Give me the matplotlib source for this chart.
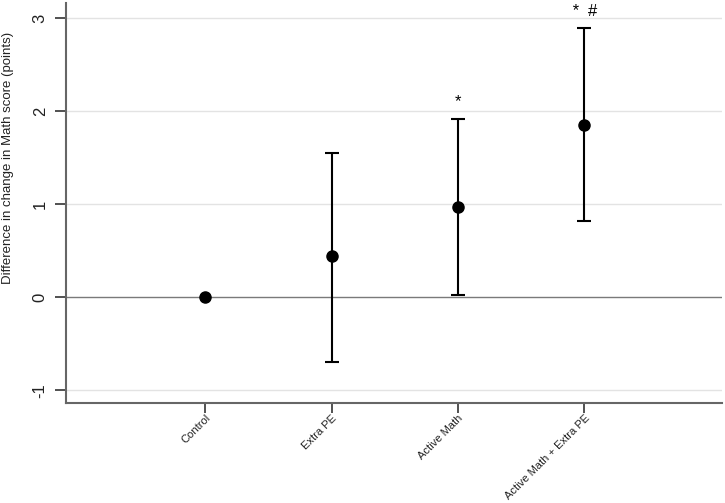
import matplotlib
matplotlib.use("Agg")
import matplotlib.pyplot as plt

categories = ["Control", "Extra PE", "Active Math", "Active Math + Extra PE"]
estimates = [0.0, 0.44, 0.975, 1.855]
ci_low = [0.0, -0.69, 0.02, 0.82]
ci_high = [0.0, 1.555, 1.92, 2.89]
annotations = ["", "", "*", "*  #"]
yticks = [-1, 0, 1, 2, 3]

plt.rcParams['font.family'] = ['Liberation Sans', 'DejaVu Sans']

fig = plt.figure(figsize=(7.25, 5.03), dpi=100)
ax = fig.add_axes([0.0906, 0.1994, 0.9054, 0.7946])

xs = list(range(1, len(categories) + 1))
ax.set_xlim(-0.103, 5.09)
ax.set_ylim(-1.131, 3.16)

for y in yticks:
    if y == 0:
        ax.axhline(y, color='#7a7a7a', lw=1.0, zorder=1)
    else:
        ax.axhline(y, color='#e3e3e3', lw=1.0, zorder=0)

for x, est, lo, hi in zip(xs, estimates, ci_low, ci_high):
    if hi != lo:
        ax.errorbar([x], [est], yerr=[[est - lo], [hi - est]], fmt='none',
                    ecolor='black', elinewidth=1.5, capsize=5, capthick=1.5, zorder=3)
ax.plot(xs, estimates, 'o', color='black', markersize=8, zorder=4, linestyle='none')

for x, hi, txt in zip(xs, ci_high, annotations):
    if txt:
        ax.text(x, hi + 0.13, txt, ha='center', va='baseline', fontsize=12,
                fontstyle='italic' if '#' in txt else 'normal')

ax.set_xticks(xs)
ax.set_xticklabels(categories, rotation=45, ha='right', rotation_mode='anchor',
                   fontsize=8, color='#222222')
ax.set_yticks(yticks)
ax.set_yticklabels([str(v) for v in yticks], rotation=90, va='center',
                   fontsize=12, color='#222222')
ax.tick_params(axis='y', length=8, width=1.2, pad=5, color='#333333')
ax.tick_params(axis='x', length=7, width=1.2, pad=0.5, color='#333333')
ax.set_ylabel("Difference in change in Math score (points)", fontsize=9.5,
              color='#222222', va='center')
ax.yaxis.set_label_coords(-0.088, 0.612)

for s in ['top', 'right']:
    ax.spines[s].set_visible(False)
for s in ['left', 'bottom']:
    ax.spines[s].set_color('#666666')
    ax.spines[s].set_linewidth(1.5)

fig.savefig("out.png", dpi=100)
